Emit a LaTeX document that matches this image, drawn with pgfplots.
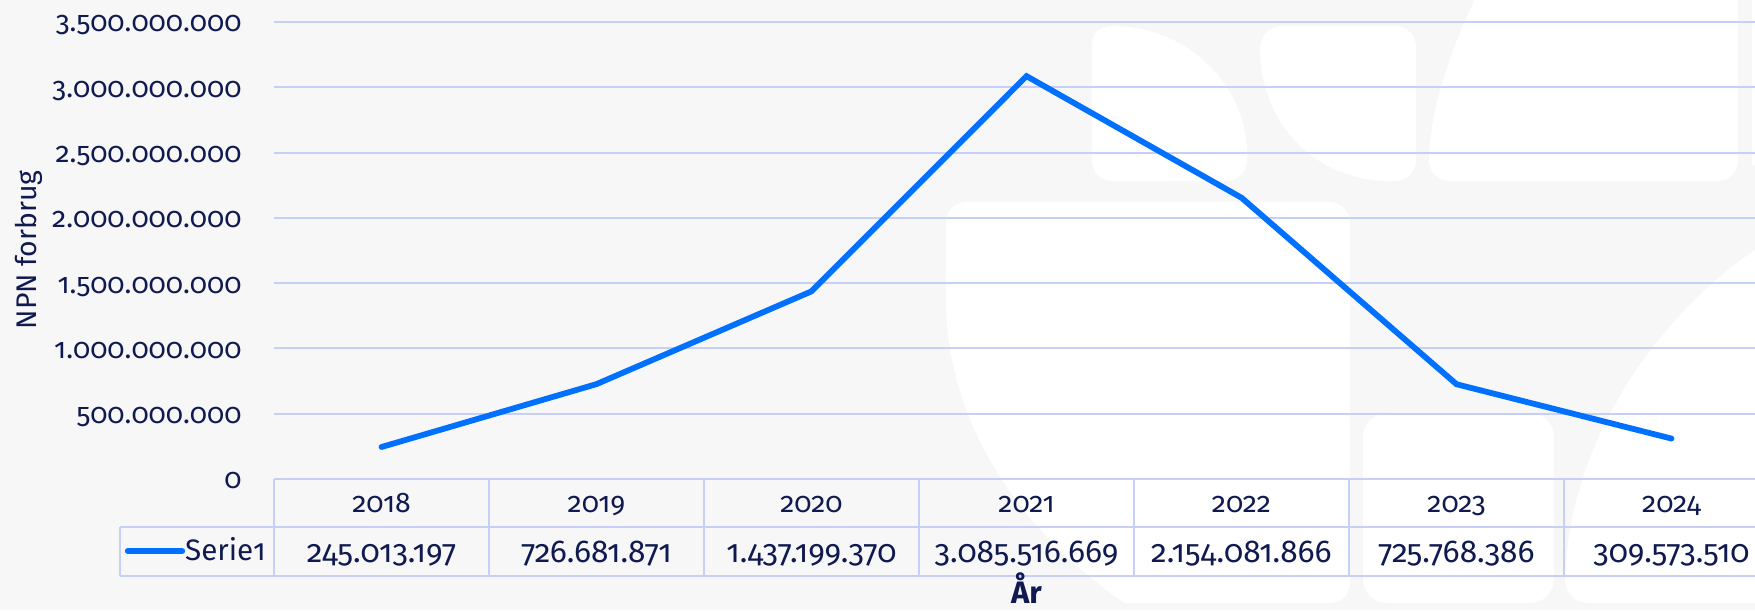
\documentclass[border=0pt]{standalone}
\usepackage{fontspec}
\IfFontExistsTF{Fira Sans Book}{%
  \setmainfont{Fira Sans Book}[Numbers=OldStyle,BoldFont={Fira Sans SemiBold}]}{%
  \setmainfont{Fira Sans}[Numbers=OldStyle]}
\usepackage{pgfplots}
\pgfplotsset{compat=1.18}
\definecolor{navy}{RGB}{16,26,80}
\definecolor{gridc}{RGB}{197,207,247}
\definecolor{linec}{RGB}{0,112,255}
\definecolor{bgc}{RGB}{247,247,247}
\newcommand\F{\fontsize{14.2}{17}\selectfont}
\newcommand\V{\fontsize{15.8}{18}\selectfont}
\begin{document}
\begin{tikzpicture}
% background (pixel coordinates, y downwards)
\begin{scope}[x=0.5pt,y=-0.5pt,yshift=305pt]
\fill[bgc] (0,0) rectangle (1755,610);
% shape A
\fill[white] (1092,160) -- (1092,45) .. controls (1092,33) and (1100,26) .. (1112,26) -- (1118,26) .. controls (1195,30) and (1245,90) .. (1247,150) -- (1247,160) .. controls (1247,172) and (1238,181) .. (1226,181) -- (1113,181) .. controls (1100,181) and (1092,172) .. (1092,160) -- cycle;
% shape B
\fill[white] (1260,50) .. controls (1262,130) and (1320,181) .. (1390,181) -- (1395,181) .. controls (1407,181) and (1416,172) .. (1416,160) -- (1416,47) .. controls (1416,35) and (1407,26) .. (1395,26) -- (1282,26) .. controls (1270,26) and (1260,35) .. (1260,50) -- cycle;
% shape C
\fill[white] (1477,-5) .. controls (1450,50) and (1430,110) .. (1429,160) .. controls (1429,172) and (1438,181) .. (1450,181) -- (1717,181) .. controls (1729,181) and (1738,172) .. (1738,160) -- (1738,-5) -- cycle;
\fill[white] (1752,-5) rectangle (1760,165);
% shape D
\fill[white] (946,222) .. controls (946,210) and (955,202) .. (967,202) -- (1329,202) .. controls (1341,202) and (1350,211) .. (1350,223) -- (1350,583) .. controls (1350,595) and (1341,603) .. (1329,603) -- (1125,603) .. controls (1030,540) and (946,430) .. (946,300) -- cycle;
% shape E
\fill[white, rounded corners=12pt] (1363,413) rectangle (1554,603);
% shape F
\fill[white] (1760,245) -- (1755,250) .. controls (1680,300) and (1570,420) .. (1565,580) .. controls (1565,593) and (1575,603) .. (1588,603) -- (1760,603) -- cycle;
\end{scope}
\node[rotate=90, inner sep=0pt, font=\F, text=navy] at (14.5pt,180pt) {NPN forbrug};
\begin{axis}[
  at={(137pt,65.5pt)}, anchor=south west, scale only axis,
  width=740.5pt, height=228.5pt,
  xmin=-0.5, xmax=6.3884, ymin=0, ymax=3.5e9,
  clip=false,
  axis line style={draw=none},
  major tick length=0pt,
  scaled y ticks=false,
  ymajorgrids, grid style={gridc, line width=1pt},
  ytick={0,5e8,1e9,1.5e9,2e9,2.5e9,3e9,3.5e9},
  yticklabels={0,500.000.000,1.000.000.000,1.500.000.000,2.000.000.000,2.500.000.000,3.000.000.000,3.500.000.000},
  yticklabel style={anchor=base east, inner sep=0pt, xshift=-16pt, yshift=-5pt},
  xtick={0,...,6},
  xticklabels={2018,2019,2020,2021,2022,2023,2024},
  xticklabel style={anchor=base, inner sep=0pt, yshift=-17pt},
  every tick label/.append style={font=\F, text=navy},
]
\addplot[color=linec, line width=2.9pt, line cap=round, line join=miter] coordinates {
  (0,245013197) (1,726681871) (2,1437199370) (3,3085516669) (4,2154081866) (5,725768386) (6,309573510)
};
% data table lines
\draw[gridc, line width=1pt] (axis cs:-0.5,0) -- (rel axis cs:1,0);
\draw[gridc, line width=1pt] (axis cs:-0.5,0) ++(-77pt,-24.25pt) -- ++(900pt,0pt);
\draw[gridc, line width=1pt] (axis cs:-0.5,0) ++(-77pt,-48.5pt) -- ++(900pt,0pt);
\draw[gridc, line width=1pt] (axis cs:-0.5,0) ++(-77pt,-24.25pt) -- ++(0pt,-24.25pt);
\pgfplotsinvokeforeach{-0.5,0.5,1.5,2.5,3.5,4.5,5.5}{
  \draw[gridc, line width=1pt] (axis cs:#1,0) -- ++(0pt,-48.5pt);
}
% legend key
\draw[linec, line width=3.2pt, line cap=round] (axis cs:-0.5,0) ++(-73pt,-36pt) -- ++(27pt,0pt);
\node[anchor=base east, inner sep=0pt, font=\fontsize{14.8}{17}\selectfont, text=navy, xshift=-4pt, yshift=-40.8pt] at (axis cs:-0.5,0) {Serie1};
% values row
\node[anchor=base, inner sep=0pt, font=\V, text=navy, yshift=-41.8pt] at (axis cs:0,0) {245.013.197};
\node[anchor=base, inner sep=0pt, font=\V, text=navy, yshift=-41.8pt] at (axis cs:1,0) {726.681.871};
\node[anchor=base, inner sep=0pt, font=\V, text=navy, yshift=-41.8pt] at (axis cs:2,0) {1.437.199.370};
\node[anchor=base, inner sep=0pt, font=\V, text=navy, yshift=-41.8pt] at (axis cs:3,0) {3.085.516.669};
\node[anchor=base, inner sep=0pt, font=\V, text=navy, yshift=-41.8pt] at (axis cs:4,0) {2.154.081.866};
\node[anchor=base, inner sep=0pt, font=\V, text=navy, yshift=-41.8pt] at (axis cs:5,0) {725.768.386};
\node[anchor=base, inner sep=0pt, font=\V, text=navy, yshift=-41.8pt] at (axis cs:6,0) {309.573.510};
% x label
\node[anchor=base, inner sep=0pt, font=\fontsize{15.5}{18}\selectfont\bfseries, text=navy, yshift=-62.3pt] at (axis cs:3,0) {År};
\end{axis}
\pgfresetboundingbox
\path[use as bounding box] (0,0) rectangle (877.5pt,305pt);
\end{tikzpicture}
\end{document}
